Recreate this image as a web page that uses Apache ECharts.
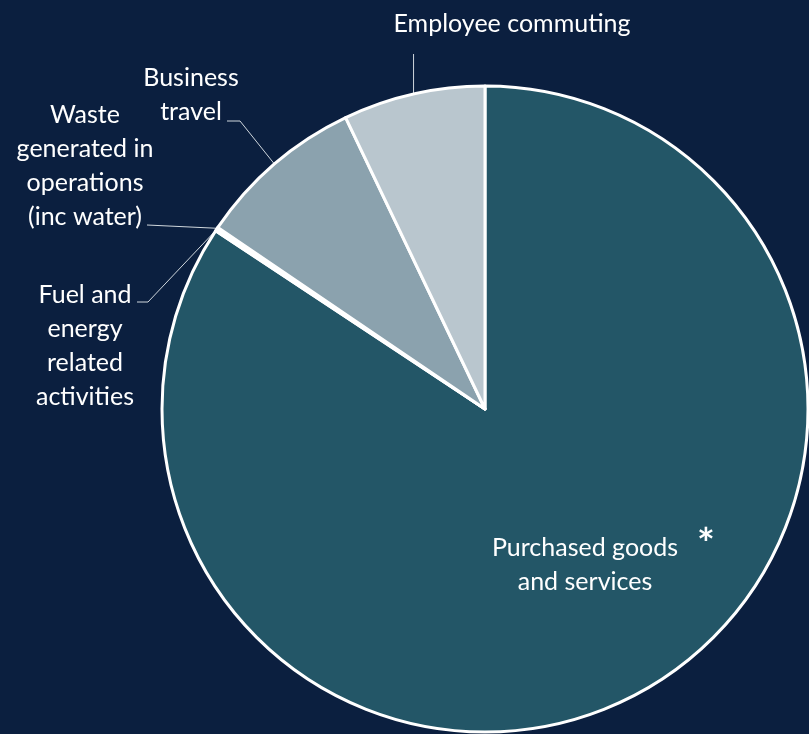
<!DOCTYPE html>
<html><head><meta charset="utf-8">
<style>html,body{margin:0;padding:0;background:#0b1f3f;} #c{width:809px;height:734px;}</style>
<script src="https://cdn.jsdelivr.net/npm/echarts@6/dist/echarts.min.js"></script>
</head><body><div id="c"></div>
<script>
const categories = ['Purchased goods and services', 'Fuel and energy related activities', 'Waste generated in operations (inc water)', 'Business travel', 'Employee commuting'];
const labelTexts = ['Purchased goods\nand services', 'Fuel and\nenergy\nrelated\nactivities', 'Waste\ngenerated in\noperations\n(inc water)', 'Business\ntravel', 'Employee commuting'];
const values = [84.3, 0.1, 0.1, 8.4, 7.1];
const colors = ['#235667', '#3f6b7a', '#6f8f9c', '#8ba2ae', '#b9c6ce'];
// label placement (layout only)
const labelPos = [
  {x: 585, y: 565, line: null},
  {x: 85, y: 346, line: [[148, 302], [137, 302]]},
  {x: 85, y: 166, line: [[147, 225], [147, 225]]},
  {x: 191, y: 95, line: [[240, 121], [227, 121]]},
  {x: 512, y: 24, line: [[null, 54], [null, 54]]}
];
const FONT = 'Lato, "Source Sans Pro", sans-serif';
const chart = echarts.init(document.getElementById('c'), null, {renderer: 'canvas'});
chart.setOption({
  backgroundColor: '#0b1f3f',
  animation: false,
  graphic: [{
    type: 'text', z: 100, x: 706, y: 524,
    style: {text: '*', fill: '#ffffff', font: 'bold 42px ' + FONT, align: 'center', verticalAlign: 'top'}
  }],
  series: [{
    type: 'pie',
    center: [485, 409],
    radius: 323,
    startAngle: 90,
    clockwise: true,
    avoidLabelOverlap: false,
    silent: true,
    itemStyle: {borderColor: '#ffffff', borderWidth: 3},
    label: {
      show: true, position: 'outside', color: '#ffffff', fontSize: 25, lineHeight: 34,
      fontFamily: FONT,
      formatter: p => labelTexts[p.dataIndex]
    },
    labelLine: {show: true, length: 10, length2: 10, lineStyle: {color: '#d0d7dd', width: 1}},
    labelLayout: function (params) {
      const i = params.dataIndex;
      const lp = labelPos[i];
      const out = {x: lp.x, y: lp.y, align: 'center', verticalAlign: 'middle'};
      if (lp.line && params.labelLinePoints) {
        const p0 = params.labelLinePoints[0];
        out.labelLinePoints = [p0].concat(lp.line.map(pt => [pt[0] == null ? p0[0] : pt[0], pt[1]]));
      }
      return out;
    },
    data: categories.map((c, i) => ({
      name: c, value: values[i], itemStyle: {color: colors[i]},
      label: i === 0 ? {position: 'inside'} : undefined,
      labelLine: i === 0 ? {show: false} : undefined
    }))
  }]
});
</script></body></html>
